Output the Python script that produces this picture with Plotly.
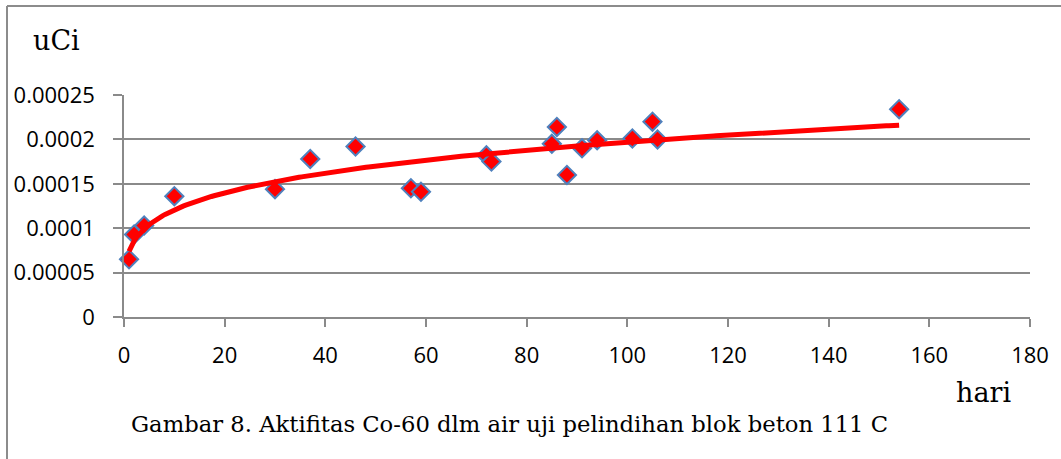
import numpy as np
import plotly.graph_objects as go

# ---- data ----
hari = [1, 2, 4, 10, 30, 37, 46, 57, 59, 72, 73, 85, 86, 88, 91, 94, 101, 105, 106, 154]
aktivitas = [6.5e-5, 9.3e-5, 1.03e-4, 1.36e-4, 1.44e-4, 1.78e-4, 1.92e-4, 1.45e-4, 1.41e-4,
             1.82e-4, 1.75e-4, 1.95e-4, 2.14e-4, 1.60e-4, 1.90e-4, 1.99e-4, 2.01e-4, 2.20e-4,
             2.00e-4, 2.34e-4]
y_tickvals = [0, 0.00005, 0.0001, 0.00015, 0.0002, 0.00025]
y_ticktext = ["0", "0.00005", "0.0001", "0.00015", "0.0002", "0.00025"]
x_tickvals = [0, 20, 40, 60, 80, 100, 120, 140, 160, 180]
y_label = "uCi"
x_label = "hari"
caption = "Gambar 8. Aktifitas Co-60 dlm air uji pelindihan blok beton 111 C"

# ---- power trendline (Excel style: least squares in log-log space) ----
xa = np.array(hari, dtype=float)
ya = np.array(aktivitas, dtype=float)
p, lnc = np.polyfit(np.log(xa), np.log(ya), 1)
x_fit = np.linspace(xa.min(), xa.max(), 300)
y_fit = np.exp(lnc) * x_fit ** p

# ---- layout geometry ----
W, H = 1061, 459
L, R, T, B = 124, 31, 95, 142
PW, PH = W - L - R, H - T - B


def px(xpix):
    return (xpix - L) / PW


def py(ypix):
    return (H - B - ypix) / PH


GRID = "#8a8a8a"
SERIF = "DejaVu Serif"
SANS = "Open Sans"

fig = go.Figure()
fig.add_trace(go.Scatter(
    x=hari, y=aktivitas, mode="markers",
    marker=dict(symbol="diamond", size=14, color="#ff0000",
                line=dict(color="#4f81bd", width=2)),
    showlegend=False, cliponaxis=False,
))
fig.add_trace(go.Scatter(
    x=x_fit, y=y_fit, mode="lines",
    line=dict(color="#ff0000", width=5),
    showlegend=False, hoverinfo="skip",
))

fig.update_layout(
    width=W, height=H,
    margin=dict(l=L, r=R, t=T, b=B),
    paper_bgcolor="white", plot_bgcolor="white",
    font=dict(family=SANS, size=22, color="#000000"),
    xaxis=dict(range=[0, 180], tickvals=x_tickvals, showgrid=False, zeroline=False,
               showline=True, linecolor=GRID, linewidth=1.5,
               ticks="outside", ticklen=8, tickwidth=1.5, tickcolor=GRID,
               ticklabelstandoff=10, tickfont=dict(family=SANS, size=22)),
    yaxis=dict(range=[0, 0.00025], tickvals=y_tickvals, ticktext=y_ticktext,
               showgrid=True, gridcolor=GRID, gridwidth=1.5, zeroline=False,
               showline=True, linecolor=GRID, linewidth=1.5,
               ticks="outside", ticklen=9, tickwidth=1.5, tickcolor=GRID,
               ticklabelstandoff=14, tickfont=dict(family=SANS, size=22)),
    shapes=[
        dict(type="line", xref="paper", yref="paper", x0=px(7), x1=px(7), y0=py(6), y1=py(H + 5),
             line=dict(color="#8c8c8c", width=2)),
        dict(type="line", xref="paper", yref="paper", x0=px(7), x1=px(W + 5), y0=py(6), y1=py(6),
             line=dict(color="#8c8c8c", width=2)),
    ],
    annotations=[
        dict(text=y_label, xref="paper", yref="paper", x=px(31), y=py(40),
             xanchor="left", yanchor="middle", showarrow=False,
             font=dict(family=SERIF, size=27, color="#000")),
        dict(text=x_label, xref="paper", yref="paper", x=px(1013), y=py(392),
             xanchor="right", yanchor="middle", showarrow=False,
             font=dict(family=SERIF, size=27, color="#000")),
        dict(text=caption, xref="paper", yref="paper", x=px(129), y=py(424),
             xanchor="left", yanchor="middle", showarrow=False,
             font=dict(family=SERIF, size=22.7, color="#000")),
    ],
)

fig.write_html("out.html")
